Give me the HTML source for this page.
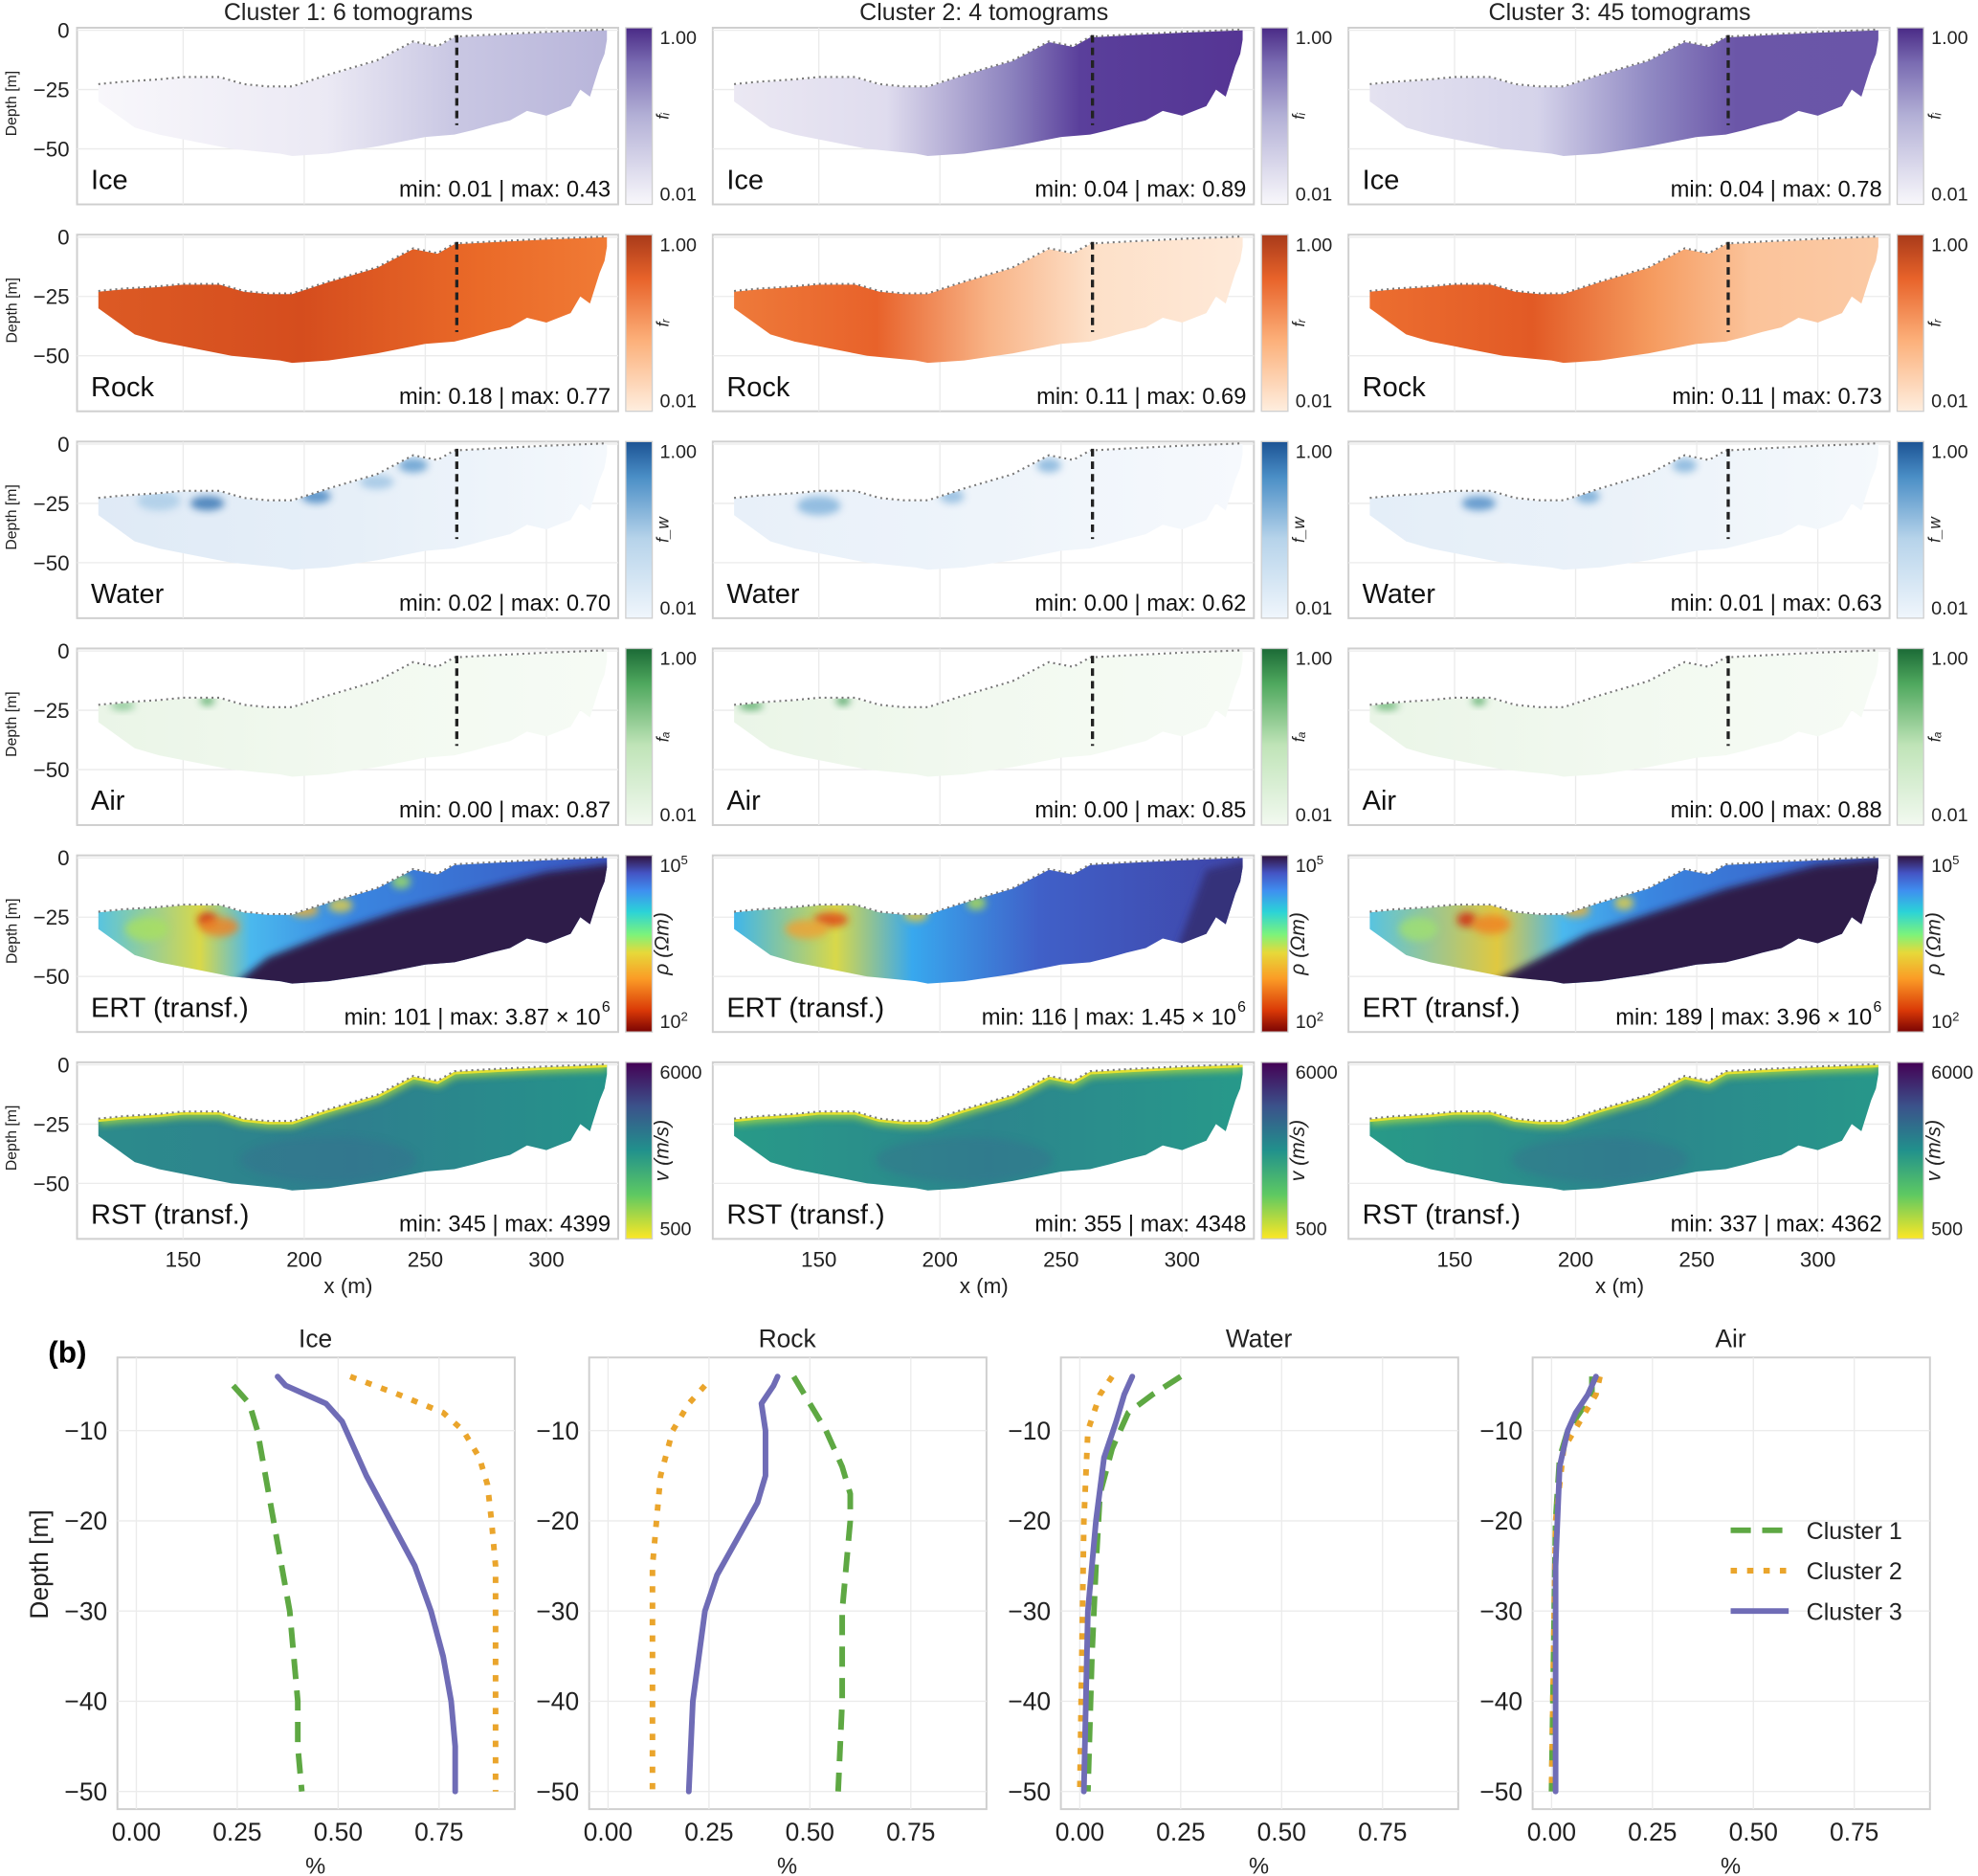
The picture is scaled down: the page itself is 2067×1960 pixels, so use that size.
<!DOCTYPE html>
<html><head><meta charset="utf-8">
<style>
html,body{margin:0;padding:0;background:#fff;}
svg{display:block;font-family:"Liberation Sans",sans-serif;}
</style></head>
<body>
<svg id="fig" xmlns="http://www.w3.org/2000/svg" width="2067" height="1960" viewBox="0 0 1568 1487">
<defs id="defs"><filter id="blur" x="-50%" y="-50%" width="200%" height="200%"><feGaussianBlur stdDeviation="3"/></filter></defs>
<g id="root"></g>
</svg>
<script>
// ===== Profile data (panel b) =====
const iceC1Depth=[-5,-7,-10,-15,-20,-25,-30,-35,-40,-45,-50];
const iceC1Value=[0.24,0.28,0.30,0.32,0.34,0.36,0.38,0.39,0.40,0.40,0.41];
const iceC2Depth=[-4,-6,-8,-10,-13,-16,-20,-25,-30,-40,-50];
const iceC2Value=[0.53,0.65,0.76,0.81,0.85,0.87,0.88,0.89,0.89,0.89,0.89];
const iceC3Depth=[-4,-5,-6,-7,-9,-12,-15,-20,-25,-30,-35,-40,-45,-50];
const iceC3Value=[0.35,0.37,0.42,0.47,0.51,0.54,0.57,0.63,0.69,0.73,0.76,0.78,0.79,0.79];
const rockC1Depth=[-4,-7,-10,-14,-17,-20,-25,-30,-40,-50];
const rockC1Value=[0.46,0.50,0.54,0.58,0.60,0.60,0.59,0.58,0.58,0.57];
const rockC2Depth=[-5,-7,-10,-15,-20,-25,-30,-50];
const rockC2Value=[0.24,0.20,0.16,0.13,0.12,0.11,0.11,0.11];
const rockC3Depth=[-4,-5,-7,-10,-15,-18,-22,-26,-30,-40,-50];
const rockC3Value=[0.42,0.41,0.38,0.39,0.39,0.37,0.32,0.27,0.24,0.21,0.20];
const waterC1Depth=[-4,-6,-8,-12,-17,-25,-35,-50];
const waterC1Value=[0.25,0.18,0.12,0.08,0.05,0.04,0.03,0.02];
const waterC2Depth=[-4,-6,-10,-20,-50];
const waterC2Value=[0.08,0.05,0.02,0.01,0.00];
const waterC3Depth=[-4,-6,-9,-13,-20,-30,-50];
const waterC3Value=[0.13,0.11,0.09,0.06,0.04,0.02,0.01];
const airC1Depth=[-4,-6,-8,-10,-13,-20,-50];
const airC1Value=[0.10,0.10,0.07,0.04,0.02,0.01,0.00];
const airC2Depth=[-4,-6,-9,-12,-20,-50];
const airC2Value=[0.12,0.11,0.07,0.03,0.01,0.00];
const airC3Depth=[-4,-6,-8,-10,-14,-25,-50];
const airC3Value=[0.11,0.09,0.06,0.04,0.02,0.01,0.01];
const profileTitles=["Ice","Rock","Water","Air"];
const xTickValues=[0,0.25,0.5,0.75];
const xTickLabels=["0.00","0.25","0.50","0.75"];
const yTickValues=[-10,-20,-30,-40,-50];
const clusterNames=["Cluster 1","Cluster 2","Cluster 3"];
// ===== Tomogram text (panel a) =====
const colTitles=["Cluster 1: 6 tomograms","Cluster 2: 4 tomograms","Cluster 3: 45 tomograms"];
const rowNames=["Ice","Rock","Water","Air","ERT (transf.)","RST (transf.)"];
const minmax=[
 ["min: 0.01 | max: 0.43","min: 0.04 | max: 0.89","min: 0.04 | max: 0.78"],
 ["min: 0.18 | max: 0.77","min: 0.11 | max: 0.69","min: 0.11 | max: 0.73"],
 ["min: 0.02 | max: 0.70","min: 0.00 | max: 0.62","min: 0.01 | max: 0.63"],
 ["min: 0.00 | max: 0.87","min: 0.00 | max: 0.85","min: 0.00 | max: 0.88"],
 ["min: 101 | max: 3.87 × 10","min: 116 | max: 1.45 × 10","min: 189 | max: 3.96 × 10"],
 ["min: 345 | max: 4399","min: 355 | max: 4348","min: 337 | max: 4362"]];
const surfaceX=[115,125,140,150,165,175,185,195,210,230,245,255,262,280,300,325];
const surfaceD=[-23,-22,-21,-20,-20,-23,-24,-24,-19,-13,-5,-7,-3,-2,-1,0];
const bottomX=[325,324,322,318,314,310,300,292,285,277,270,262,250,230,210,195,190,170,150,140,130,115];
const bottomD=[-4,-10,-15,-28,-25,-32,-36,-34,-38,-40,-42,-44,-45,-49,-52,-53,-52,-50,-46,-44,-41,-30];
const xTicksTop=[150,200,250,300];
const dTicksTop=[0,-25,-50];

const NS="http://www.w3.org/2000/svg";
const root=document.getElementById('root');
const defs=document.getElementById('defs');
function mk(tag,attrs,parent,text){const e=document.createElementNS(NS,tag);for(const k in attrs)e.setAttribute(k,attrs[k]);if(text!==undefined)e.textContent=text;(parent||root).appendChild(e);return e;}
function grad(id,stops,vertical){const g=mk('linearGradient',{id:id,x1:0,y1:vertical?1:0,x2:vertical?0:1,y2:0},defs);stops.forEach(s=>mk('stop',{offset:s[0],'stop-color':s[1]},g));return 'url(#'+id+')';}

const colX=[61,565,1069];
function X(c,x){return colX[c]+(x-106.2)*1.92;}
function Y(r,d){return 22+164*r+2+(-d)*1.88;}

const cmaps=[
 [[0,'#f8f7fb'],[0.5,'#b3b0d6'],[0.8,'#7a6cb2'],[1,'#4a2a86']],
 [[0,'#feeedf'],[0.4,'#fcb07a'],[0.75,'#e8632a'],[1,'#a83a1a']],
 [[0,'#f0f6fc'],[0.45,'#b6d3ea'],[0.8,'#4a8ec6'],[1,'#1c5394']],
 [[0,'#f2f9f0'],[0.45,'#c0e4b8'],[0.8,'#4fa85e'],[1,'#1b6a36']],
 [[0,'#7a0403'],[0.12,'#d93807'],[0.3,'#fb9b26'],[0.45,'#e6d93a'],[0.55,'#7df37a'],[0.68,'#2bd3d8'],[0.8,'#3f8ff0'],[0.9,'#4454c4'],[1,'#30123b']],
 [[0,'#fde725'],[0.25,'#5ec962'],[0.5,'#21918c'],[0.75,'#3b528b'],[1,'#440154']]];
const cbTop=["1.00","1.00","1.00","1.00","10^5","6000"];
const cbBot=["0.01","0.01","0.01","0.01","10^2","500"];
const cbLab=["fᵢ","fᵣ","f_w","fₐ","ρ (Ωm)","v (m/s)"];

const fills=[
 [[[0,'#f8f7fb'],[0.45,'#ebe9f4'],[0.7,'#c9c7e3'],[1,'#b8b5da']],[[0,'#ebe8f3'],[0.3,'#dfdcee'],[0.55,'#8a80bd'],[0.68,'#5a3f9b'],[1,'#553594']],[[0,'#e4e2f0'],[0.33,'#d5d3ea'],[0.55,'#9089c3'],[0.72,'#6b56a8'],[1,'#6a55a8']]],
 [[[0,'#dc5a24'],[0.4,'#d54d1e'],[0.75,'#ea6a28'],[1,'#f07a35']],[[0,'#ee7a3a'],[0.28,'#e8622a'],[0.5,'#f8b386'],[0.7,'#fde0c8'],[1,'#fee9d8']],[[0,'#ec6e30'],[0.32,'#e25a25'],[0.55,'#f59a5e'],[0.75,'#fbc39a'],[1,'#fbcaa5']]],
 [[[0,'#dfeaf6'],[0.5,'#e6eff8'],[1,'#f4f8fc']],[[0,'#e8f0f9'],[0.5,'#eef4fa'],[1,'#f6f9fd']],[[0,'#e4eef8'],[0.5,'#ebf2f9'],[1,'#f5f9fc']]],
 [[[0,'#eaf5e7'],[0.5,'#f2f9f0'],[1,'#f6fbf5']],[[0,'#eaf5e7'],[0.5,'#f2f9f0'],[1,'#f6fbf5']],[[0,'#eaf5e7'],[0.5,'#f2f9f0'],[1,'#f6fbf5']]],
 [[[0,'#58c4e0'],[0.2,'#d8d84a'],[0.3,'#4ab8ee'],[0.5,'#3a86e0'],[1,'#3a55c0']],[[0,'#3fb6ea'],[0.2,'#d8d84a'],[0.35,'#38a8ee'],[0.6,'#4060c8'],[1,'#3f45a8']],[[0,'#58c4e0'],[0.25,'#e0c840'],[0.38,'#4ab8ee'],[0.55,'#3a86e0'],[1,'#3a55c0']]],
 [[[0,'#2c8b8c'],[0.5,'#2e7f8e'],[1,'#25938a']],[[0,'#289a88'],[0.5,'#2c858d'],[1,'#27998a']],[[0,'#289a88'],[0.5,'#2c858d'],[1,'#27978a']]]];
const dark=[
 [[165,-58],[185,-42],[210,-32],[240,-22],[262,-16],[300,-6],[330,-2],[330,-60]],
 [[290,-60],[310,-5],[330,0],[330,-60]],
 [[155,-58],[180,-45],[205,-32],[235,-22],[262,-13],[300,-3],[330,0],[330,-60]]];
const blobs=[
 null,null,
 [[[160,-25,7,3,'#2f6fb0'],[205,-22,6,3,'#3f82c0'],[245,-9,6,3,'#5a98cc'],[140,-24,9,4,'#a8cbe6'],[230,-16,7,3,'#9cc3e3']],[[150,-26,9,4,'#7eb0da'],[205,-22,5,3,'#8ab8de'],[245,-9,5,3,'#7eb0da']],[[160,-25,7,3,'#4a88c4'],[205,-22,5,3,'#6ea6d4'],[245,-9,5,3,'#7eb0da']]],
 [[[125,-23,5,2,'#7ec18a'],[160,-21,3,2,'#4ea65f']],[[122,-23,5,2,'#4ea65f'],[160,-21,3,2,'#3d9a52']],[[122,-23,5,2,'#5eb06c'],[160,-21,3,2,'#4ea65f']]],
 [[[160,-26,4,3,'#d02010'],[165,-29,8,4,'#f08020'],[200,-22,6,3,'#f0b030'],[215,-20,5,3,'#e8d040'],[240,-10,4,3,'#a0e060'],[135,-30,9,5,'#a8e060']],[[155,-26,7,3,'#e04015'],[145,-30,9,4,'#f0a030'],[190,-24,5,3,'#e8c838'],[215,-19,4,3,'#b0e050']],[[155,-26,4,3,'#d02010'],[165,-28,8,4,'#f08020'],[200,-22,6,3,'#f0b030'],[220,-19,4,3,'#e8d040'],[135,-30,8,5,'#a0e070']]],
 null];

colTitles.forEach((t,c)=>{const e=mk('text',{x:colX[c]+215,y:16,'text-anchor':'middle','font-size':19,fill:'#222'},root,t);});
{const e=mk('text',{x:65,y:50,'font-size':24,'font-weight':'bold',fill:'#000'},root,'(a)');}

for(let r=0;r<6;r++){
 for(let c=0;c<3;c++){
  const top=22+164*r, x0=colX[c];
  const g=mk('g',{});
  
  
  mk('rect',{x:x0,y:top,width:429,height:140,fill:'#fff',stroke:'#cfcfcf','stroke-width':1.5},g);
  xTicksTop.forEach(v=>mk('line',{x1:X(c,v),x2:X(c,v),y1:top,y2:top+140,stroke:'#ebebeb','stroke-width':1},g));
  dTicksTop.forEach(v=>mk('line',{x1:x0,x2:x0+429,y1:Y(r,v),y2:Y(r,v),stroke:'#ebebeb','stroke-width':1},g));
  let pts=[];surfaceX.forEach((x,i)=>pts.push(X(c,x)+','+Y(r,surfaceD[i])));bottomX.forEach((x,i)=>pts.push(X(c,x)+','+Y(r,bottomD[i])));
  const cid='clip'+r+c;const cp=mk('clipPath',{id:cid},defs);mk('polygon',{points:pts.join(' ')},cp);
  const gg=mk('linearGradient',{id:'f'+r+c,gradientUnits:'userSpaceOnUse',x1:X(c,115),x2:X(c,325),y1:0,y2:0},defs);
  fills[r][c].forEach(s=>mk('stop',{offset:s[0],'stop-color':s[1]},gg));
  const body=mk('g',{'clip-path':'url(#'+cid+')'},g);
  mk('rect',{x:x0,y:top,width:429,height:140,fill:'url(#f'+r+c+')'},body);
  if(r==4){const dp=dark[c].map(p=>X(c,p[0])+','+Y(r,p[1])).join(' ');mk('polygon',{points:dp,fill:c==1?'#35307a':'#2d1d48',filter:'url(#blur)'},body);}
  if(r==5){let d='M'+surfaceX.map((x,i)=>X(c,x)+','+Y(r,surfaceD[i])).join(' L');mk('path',{d:d,fill:'none',stroke:'#a8d840','stroke-width':9,opacity:0.85,filter:'url(#blur)'},body);mk('path',{d:d,fill:'none',stroke:'#e4e030','stroke-width':4},body);
   mk('ellipse',{cx:X(c,210),cy:Y(r,-40),rx:70,ry:18,fill:'#3a6a90',opacity:0.35,filter:'url(#blur)'},body);}
  if(blobs[r]) blobs[r][c].forEach(b=>mk('ellipse',{cx:X(c,b[0]),cy:Y(r,b[1]),rx:b[2]*1.92,ry:b[3]*1.88,fill:b[4],opacity:0.8,filter:'url(#blur)'},body));
  mk('polyline',{points:surfaceX.map((x,i)=>X(c,x)+','+Y(r,surfaceD[i]+0.3)).join(' '),fill:'none',stroke:'#777','stroke-width':1.6,'stroke-dasharray':'1.5 3'},g);
  if(r<4) mk('line',{x1:X(c,263),x2:X(c,263),y1:Y(r,-2),y2:Y(r,-40),stroke:'#222','stroke-width':2.5,'stroke-dasharray':'6 4'},g);
  mk('text',{x:x0+11,y:top+128,'font-size':22,fill:'#111'},g,rowNames[r]);
  const mt=mk('text',{x:x0+423,y:top+134,'text-anchor':'end','font-size':18,fill:'#111'},g,minmax[r][c]);
  if(r==4){mt.setAttribute('x',x0+415);mk('text',{x:x0+416,y:top+124,'font-size':12,fill:'#111'},g,'6');}
  if(c==0){
   dTicksTop.forEach(v=>mk('text',{x:x0-6,y:Y(r,v)+6,'text-anchor':'end','font-size':17,fill:'#222'},g,v===0?'0':'−'+(-v)));
   mk('text',{x:13,y:top+60,'text-anchor':'middle','font-size':12,fill:'#222',transform:'rotate(-90 13 '+(top+60)+')'},g,'Depth [m]');
  }
  if(r==5){
   xTicksTop.forEach(v=>mk('text',{x:X(c,v),y:top+162,'text-anchor':'middle','font-size':17,fill:'#222'},g,String(v)));
   mk('text',{x:x0+215,y:top+183,'text-anchor':'middle','font-size':17,fill:'#222'},g,'x (m)');
  }
  const cb=mk('g',{});
  
  
  const cbx=x0+435;
  mk('rect',{x:cbx,y:top,width:21,height:140,fill:grad('cb'+r+c,cmaps[r],true),stroke:'#cfcfcf','stroke-width':1},cb);
  function cbText(s,y){if(s.startsWith('10^')){const t=mk('text',{x:cbx+27,y:y,'font-size':15,fill:'#222'},cb,'10');mk('tspan',{dy:-6,'font-size':10},t,s.slice(3));}else mk('text',{x:cbx+27,y:y,'font-size':15,fill:'#222'},cb,s);}
  cbText(cbTop[r],top+13);cbText(cbBot[r],top+137);
  const ly=top+70;mk('text',{x:cbx+34,y:ly,'text-anchor':'middle','font-size':r>=4?16:13,'font-style':'italic',fill:'#222',transform:'rotate(-90 '+(cbx+34)+' '+ly+')'},cb,cbLab[r]);
 }
}

{const e=mk('text',{x:38,y:1080,'font-size':24,'font-weight':'bold',fill:'#000'},root,'(b)');}
const px0=[93,467,841,1215];
function Xv(k,v){return px0[k]+15+v*320;}
function Yd(d){return 1134+(-10-d)*7.15;}
const series=[[[iceC1Depth,iceC1Value],[iceC2Depth,iceC2Value],[iceC3Depth,iceC3Value]],
 [[rockC1Depth,rockC1Value],[rockC2Depth,rockC2Value],[rockC3Depth,rockC3Value]],
 [[waterC1Depth,waterC1Value],[waterC2Depth,waterC2Value],[waterC3Depth,waterC3Value]],
 [[airC1Depth,airC1Value],[airC2Depth,airC2Value],[airC3Depth,airC3Value]]];
const styles=[{stroke:'#5ea843','stroke-dasharray':'16 9'},{stroke:'#eaa52c','stroke-dasharray':'5 8'},{stroke:'#6f6cb6'}];
for(let k=0;k<4;k++){
 const g=mk('g',{});
 
 
 mk('rect',{x:px0[k],y:1076,width:315,height:358,fill:'#fff',stroke:'#cfcfcf','stroke-width':1.5},g);
 xTickValues.forEach((v,i)=>{mk('line',{x1:Xv(k,v),x2:Xv(k,v),y1:1076,y2:1434,stroke:'#ebebeb'},g);
  mk('text',{x:Xv(k,v),y:1459,'text-anchor':'middle','font-size':20,fill:'#222'},g,xTickLabels[i]);});
 yTickValues.forEach(v=>{mk('line',{x1:px0[k],x2:px0[k]+315,y1:Yd(v),y2:Yd(v),stroke:'#ebebeb'},g);
  mk('text',{x:px0[k]-8,y:Yd(v)+7,'text-anchor':'end','font-size':20,fill:'#222'},g,'−'+(-v));});
 mk('text',{x:px0[k]+157,y:1068,'text-anchor':'middle','font-size':20,fill:'#222'},g,profileTitles[k]);
 mk('text',{x:px0[k]+157,y:1485,'text-anchor':'middle','font-size':18,fill:'#222'},g,'%');
 series[k].forEach((s,j)=>{const pts=s[0].map((d,i)=>Xv(k,s[1][i])+','+Yd(d)).join(' ');
  const a={points:pts,fill:'none','stroke-width':4.5,'stroke-linecap':j==2?'round':'butt','stroke-linejoin':'round'};Object.assign(a,styles[j]);
  const l=mk('polyline',a,g);});
}
mk('text',{x:38,y:1240,'text-anchor':'middle','font-size':20,fill:'#222',transform:'rotate(-90 38 1240)'},root,'Depth [m]');
const leg=mk('g',{});


clusterNames.forEach((n,j)=>{const y=1213+32*j;const a={x1:1372,x2:1418,y1:y,y2:y,'stroke-width':4.5};Object.assign(a,styles[j]);mk('line',a,leg);
 const t=mk('text',{x:1432,y:y+7,'font-size':19,fill:'#222'},leg,n);});
</script>
</body></html>
